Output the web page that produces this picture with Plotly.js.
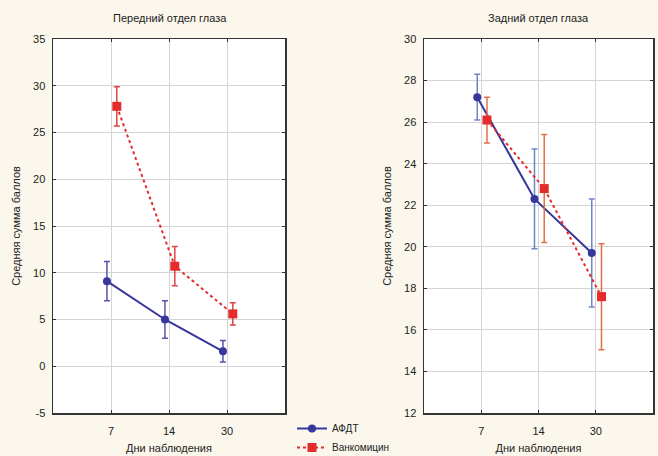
<!DOCTYPE html>
<html><head><meta charset="utf-8">
<script src="https://cdn.plot.ly/plotly-3.0.1.min.js"></script>
<style>html,body{margin:0;padding:0;background:#fbf7ec;}</style>
</head><body>
<div id="chart" style="width:658px;height:456px;"></div>
<script>
const days = ["7", "14", "30"];
const seriesNames = ["АФДТ", "Ванкомицин"];
// Передний отдел глаза
const frontAFDT = [9.1, 5.0, 1.6];
const frontAFDTErr = [2.1, 2.0, 1.15];
const frontVanco = [27.8, 10.7, 5.6];
const frontVancoErr = [2.1, 2.1, 1.2];
const frontYTicks = [-5, 0, 5, 10, 15, 20, 25, 30, 35];
const frontYLabels = ["-5", "0", "5", "10", "15", "20", "25", "30", "35"];
// Задний отдел глаза
const backAFDT = [27.2, 22.3, 19.7];
const backAFDTErr = [1.1, 2.4, 2.6];
const backVanco = [26.1, 22.8, 17.6];
const backVancoErr = [1.1, 2.6, 2.55];
const backYTicks = [12, 14, 16, 18, 20, 22, 24, 26, 28, 30];
const backYLabels = ["12", "14", "16", "18", "20", "22", "24", "26", "28", "30"];
const titles = ["Передний отдел глаза", "Задний отдел глаза"];
const yTitle = "Средняя сумма баллов";
const xTitle = "Дни наблюдения";

const blue = "#36369c", red = "#e52b2b";
const idx = days.map((d, i) => i);
function shift(o) { return idx.map(i => i + o); }

const traces = [
  {x: shift(-0.07), y: frontAFDT, xaxis: "x", yaxis: "y", name: seriesNames[0],
   mode: "lines+markers", line: {color: blue, width: 2}, marker: {color: blue, size: 8, symbol: "circle"},
   error_y: {type: "data", array: frontAFDTErr, color: "#5656ac", thickness: 1.5, width: 3}},
  {x: shift(0.1), y: frontVanco, xaxis: "x", yaxis: "y", name: seriesNames[1],
   mode: "lines+markers", line: {color: red, width: 2, dash: "dot"}, marker: {color: red, size: 9, symbol: "square"},
   error_y: {type: "data", array: frontVancoErr, color: "#dd4444", thickness: 1.5, width: 3}},
  {x: shift(-0.07), y: backAFDT, xaxis: "x2", yaxis: "y2", name: seriesNames[0], showlegend: false,
   mode: "lines+markers", line: {color: blue, width: 2}, marker: {color: blue, size: 8, symbol: "circle"},
   error_y: {type: "data", array: backAFDTErr, color: "#6f86c9", thickness: 1.5, width: 3}},
  {x: shift(0.1), y: backVanco, xaxis: "x2", yaxis: "y2", name: seriesNames[1], showlegend: false,
   mode: "lines+markers", line: {color: red, width: 2, dash: "dot"}, marker: {color: red, size: 9, symbol: "square"},
   error_y: {type: "data", array: backVancoErr, color: "#e0704a", thickness: 1.5, width: 3}}
];

const font = {family: "Liberation Sans, Arial, sans-serif", size: 11, color: "#222"};
function xax(domain, anchor) {
  return {domain: domain, anchor: anchor, range: [-1, 3], tickmode: "array", tickvals: idx, ticktext: days,
    showgrid: true, gridcolor: "#d4d4d4", gridwidth: 1, zeroline: false, showline: true, linecolor: "#333",
    linewidth: 1.5, mirror: "allticks", ticks: "inside", ticklen: 3, tickcolor: "#333", ticklabelstandoff: 7,
    automargin: false, title: {text: xTitle, font: font, standoff: 8}, tickfont: font};
}
function yax(domain, anchor, range, vals, labels) {
  return {domain: domain, anchor: anchor, range: range, tickmode: "array", tickvals: vals, ticktext: labels,
    showgrid: true, gridcolor: "#d4d4d4", gridwidth: 1, zeroline: false, showline: true, linecolor: "#333",
    linewidth: 1.5, mirror: "allticks", ticks: "inside", ticklen: 3, tickcolor: "#333", ticklabelstandoff: 4,
    automargin: false, title: {text: yTitle, font: font, standoff: 10}, tickfont: font};
}
const yDom = [1 - 413/456, 1 - 39/456];
const layout = {
  width: 658, height: 456, margin: {l: 0, r: 0, t: 0, b: 0, autoexpand: false},
  paper_bgcolor: "#fbf7ec", plot_bgcolor: "#ffffff", font: font,
  xaxis: xax([53/658, 285/658], "y"),
  yaxis: yax(yDom, "x", [-5, 35], frontYTicks, frontYLabels),
  xaxis2: xax([424/658, 653/658], "y2"),
  yaxis2: yax(yDom, "x2", [12, 30], backYTicks, backYLabels),
  showlegend: true,
  legend: {x: 292/658, y: 1 - 414/456, xanchor: "left", yanchor: "top", bgcolor: "rgba(0,0,0,0)",
    font: {family: font.family, size: 10, color: "#222"}, tracegroupgap: 0, itemwidth: 30},
  annotations: [
    {text: titles[0], x: 170/658, y: 1 - 18/456, xref: "paper", yref: "paper", xanchor: "center", yanchor: "middle", showarrow: false, font: font},
    {text: titles[1], x: 538/658, y: 1 - 18/456, xref: "paper", yref: "paper", xanchor: "center", yanchor: "middle", showarrow: false, font: font}
  ]
};
Plotly.newPlot("chart", traces, layout, {displayModeBar: false, staticPlot: true});
</script>
</body></html>
